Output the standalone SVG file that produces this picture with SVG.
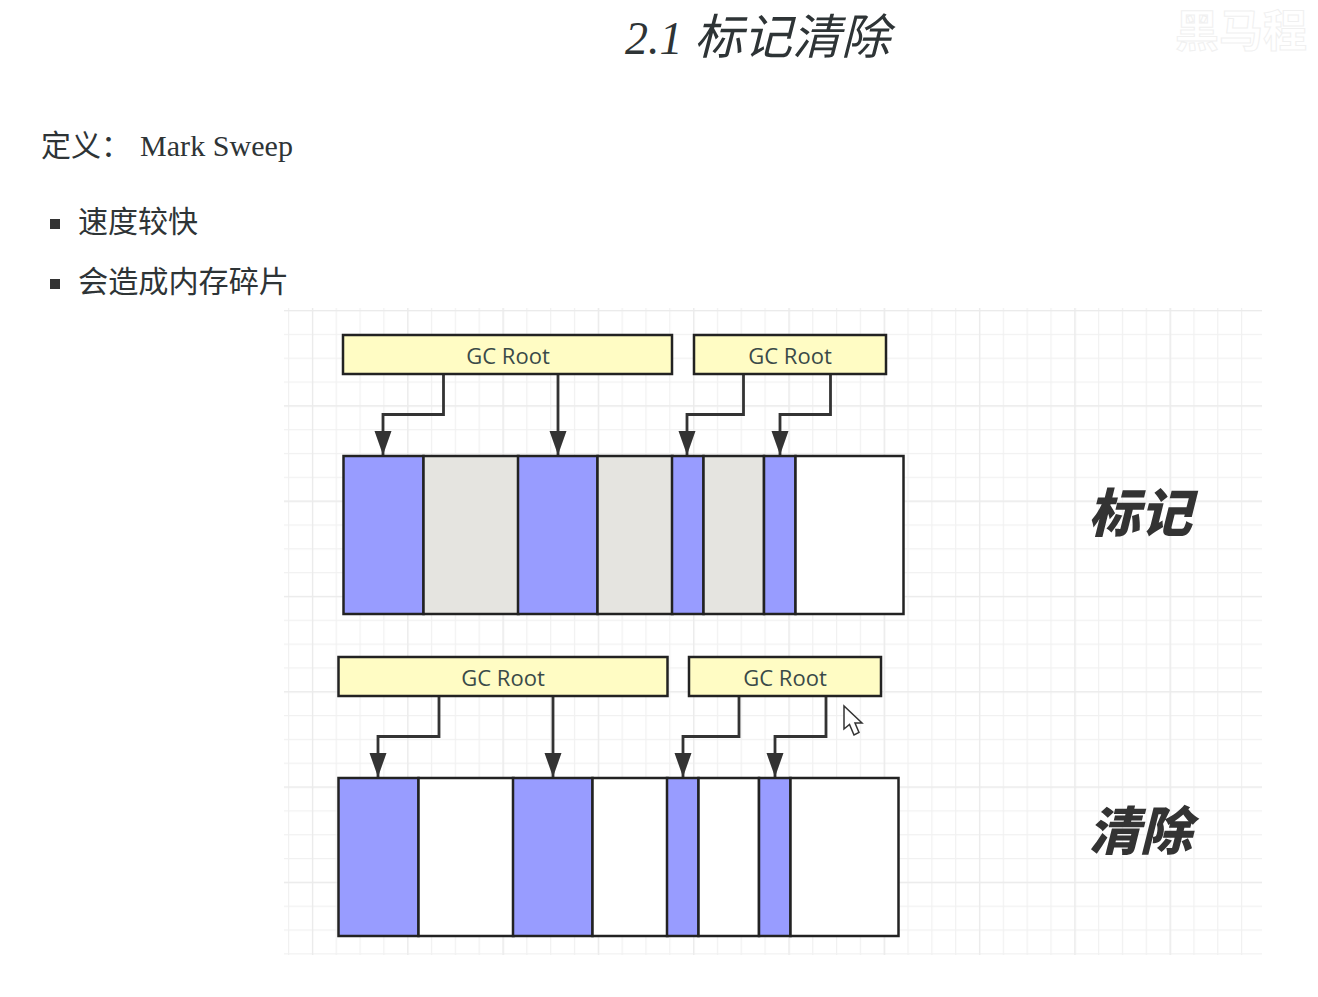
<svg xmlns="http://www.w3.org/2000/svg" width="1318" height="997" viewBox="0 0 1318 997">
<style>
.live{fill:#989cff;stroke:#222;stroke-width:2.5}
.dead{fill:#e5e4e0;stroke:#222;stroke-width:2.5}
.free{fill:#fff;stroke:#222;stroke-width:2.5}
.root{fill:#fffcc4;stroke:#222;stroke-width:2.5}
.rl{font:22px "Open Sans","Noto Sans",sans-serif;fill:#3a4a48;text-anchor:middle}
.wire{fill:none;stroke:#333;stroke-width:2.8;marker-end:url(#ah)}
.cn{font-family:"Noto Sans CJK SC",sans-serif;fill:#2e3436}
.side{font-family:"Noto Sans CJK SC",sans-serif;font-weight:900;font-style:italic;font-size:52px;fill:#333}
</style>
<defs>
<marker id="ah" markerUnits="userSpaceOnUse" markerWidth="25" markerHeight="18" refX="24" refY="9" orient="auto"><path d="M0 0.500L24 9L0 17.500Z" fill="#333"/></marker>
<pattern id="minor" patternUnits="userSpaceOnUse" x="288" y="310" width="23.825" height="23.825"><path d="M.5 0V23.825M0 .5H23.825" fill="none" stroke="#f1f1f1" stroke-width="1.5"/></pattern>
<pattern id="major" patternUnits="userSpaceOnUse" x="312" y="310" width="95.3" height="95.3"><path d="M.5 0V95.3M0 .5H95.3" fill="none" stroke="#ebebeb" stroke-width="1.500"/></pattern>
</defs>
<rect width="1318" height="997" fill="#fff"/>
<g id="grid"><rect x="284" y="308" width="978" height="647" fill="url(#minor)"/><rect x="284" y="308" width="978" height="647" fill="url(#major)"/></g>

<g id="title"><text x="625" y="54" font-family="Liberation Serif,serif" font-style="italic" font-size="46" fill="#2e3436">2.1</text><text x="694" y="54" class="cn" font-style="italic" font-size="48" font-weight="400" textLength="196" lengthAdjust="spacingAndGlyphs">标记清除</text></g>
<g id="watermark"><text x="1175" y="47" class="cn" font-size="44" font-weight="700" style="fill:#fff;stroke:#f0f0f0;stroke-width:1">黑马程</text></g>
<g id="definition"><text x="41" y="156" class="cn" font-size="30" font-weight="400">定义：</text><text x="140" y="156" font-family="Liberation Serif,serif" font-size="30" fill="#2e3436" textLength="153">Mark Sweep</text></g>
<g id="bullet1"><rect x="50" y="219" width="10" height="10" fill="#333"/><text x="78" y="232" class="cn" font-size="30" font-weight="400">速度较快</text></g>
<g id="bullet2"><rect x="50" y="279" width="10" height="10" fill="#333"/><text x="78" y="292" class="cn" font-size="30" font-weight="400" textLength="211" lengthAdjust="spacingAndGlyphs">会造成内存碎片</text></g>

<g id="connectors">
<path class="wire" d="M443.500 374V414.500H383V455"/>
<path class="wire" d="M558 374V455"/>
<path class="wire" d="M743.500 374V414.500H687V455"/>
<path class="wire" d="M830.500 374V414.500H780V455"/>
<path class="wire" d="M439 696V736.500H378V777"/>
<path class="wire" d="M553 696V777"/>
<path class="wire" d="M739 696V736.500H683V777"/>
<path class="wire" d="M826 696V736.500H775V777"/>
</g>

<g id="root-a1"><rect class="root" x="343" y="335" width="329" height="39"/><text class="rl" x="508" y="364">GC Root</text></g>
<g id="root-a2"><rect class="root" x="694" y="335" width="192" height="39"/><text class="rl" x="790" y="364">GC Root</text></g>
<g id="root-b1"><rect class="root" x="338.500" y="657" width="329" height="39"/><text class="rl" x="503" y="686">GC Root</text></g>
<g id="root-b2"><rect class="root" x="689" y="657" width="192" height="39"/><text class="rl" x="785" y="686">GC Root</text></g>

<g id="heap-mark">
<rect class="live" x="343.500" y="456" width="80" height="158"/>
<rect class="dead" x="423.500" y="456" width="95" height="158"/>
<rect class="live" x="518" y="456" width="79.500" height="158"/>
<rect class="dead" x="597.500" y="456" width="75" height="158"/>
<rect class="live" x="672" y="456" width="31.500" height="158"/>
<rect class="dead" x="703.500" y="456" width="60.500" height="158"/>
<rect class="live" x="764" y="456" width="31.500" height="158"/>
<rect class="free" x="795.500" y="456" width="108" height="158"/>
</g>
<g id="heap-sweep">
<rect class="live" x="338.500" y="778" width="80" height="158"/>
<rect class="free" x="418.500" y="778" width="95" height="158"/>
<rect class="live" x="513" y="778" width="79.500" height="158"/>
<rect class="free" x="592.500" y="778" width="75" height="158"/>
<rect class="live" x="667" y="778" width="31.500" height="158"/>
<rect class="free" x="698.500" y="778" width="60.500" height="158"/>
<rect class="live" x="759" y="778" width="31.500" height="158"/>
<rect class="free" x="790.500" y="778" width="108" height="158"/>
</g>
<g id="label-mark"><text class="side" x="1088" y="532">标记</text></g>
<g id="label-sweep"><text class="side" x="1088" y="850">清除</text></g>
<g id="cursor"><path d="M844 706V729L849.500 724.500L854 735L859 732.500L855 723H862Z" fill="#fff" stroke="#333" stroke-width="1.500"/></g>
</svg>
